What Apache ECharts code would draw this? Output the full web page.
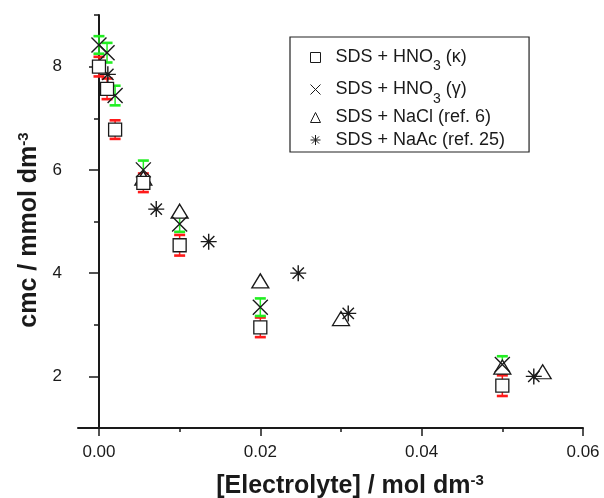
<!DOCTYPE html>
<html>
<head>
<meta charset="utf-8">
<script src="https://cdn.jsdelivr.net/npm/echarts@6/dist/echarts.min.js"></script>
<style>
html,body{margin:0;padding:0;background:#fff;}
#chart{width:604px;height:498px;}
</style>
</head>
<body>
<div id="chart"></div>
<script>
// ---- data ----
const kappaX   = [0, 0.001, 0.002, 0.0055, 0.01, 0.02, 0.05];
const kappaY   = [8.0, 7.57, 6.78, 5.75, 4.54, 2.95, 1.82];
const kappaErr = [0.19, 0.20, 0.18, 0.18, 0.20, 0.19, 0.20];

const gammaX   = [0, 0.001, 0.002, 0.0055, 0.01, 0.02, 0.05];
const gammaY   = [8.42, 8.27, 7.44, 6.0, 4.95, 3.34, 2.23];
const gammaErr = [0.17, 0.19, 0.19, 0.18, 0.15, 0.17, 0.16];

const naclX = [0.0055, 0.01, 0.02, 0.03, 0.05, 0.055];
const naclY = [5.84, 5.2, 3.85, 3.12, 2.18, 2.09];

const naacX = [0.0011, 0.0071, 0.0136, 0.0247, 0.0309, 0.0539];
const naacY = [7.85, 5.24, 4.61, 4.0, 3.22, 2.0];

const xMajorTicks = [0, 0.02, 0.04, 0.06];
const xMinorTicks = [0.01, 0.03, 0.05];
const yMajorTicks = [2, 4, 6, 8];

const legendLabels = {
  kappa: 'SDS + HNO{sub|3} (κ)',
  gamma: 'SDS + HNO{sub|3} (γ)',
  nacl: 'SDS + NaCl (ref. 6)',
  naac: 'SDS + NaAc (ref. 25)'
};

// ---- build ----
const FONT = '"Liberation Sans", Arial, Helvetica, sans-serif';
const INK = '#1a1a1a';
const zip2 = (xs, ys) => xs.map((x, i) => [x, ys[i]]);
const zip3 = (xs, ys, es) => xs.map((x, i) => [x, ys[i], es[i]]);

function errRender(color) {
  return function (params, api) {
    const x = api.value(0), y = api.value(1), e = api.value(2);
    const hi = api.coord([x, y + e]);
    const lo = api.coord([x, y - e]);
    const hw = 5.5;
    return {
      type: 'group',
      children: [
        {type: 'line', shape: {x1: hi[0], y1: hi[1], x2: lo[0], y2: lo[1]}, style: {stroke: color, lineWidth: 1.5}},
        {type: 'line', shape: {x1: hi[0] - hw, y1: hi[1], x2: hi[0] + hw, y2: hi[1]}, style: {stroke: color, lineWidth: 2.6}},
        {type: 'line', shape: {x1: lo[0] - hw, y1: lo[1], x2: lo[0] + hw, y2: lo[1]}, style: {stroke: color, lineWidth: 2.6}}
      ]
    };
  };
}

const symStyle = {color: '#fff', borderColor: INK, borderWidth: 1.3, opacity: 1};
const lineSymStyle = {color: 'none', borderColor: INK, borderWidth: 1.4, opacity: 1};

const CROSS = 'path://M0,0L10,10M10,0L0,10';
const STAR = 'path://M0,5L10,5M5,0L5,10M1.46,1.46L8.54,8.54M8.54,1.46L1.46,8.54';

const chart = echarts.init(document.getElementById('chart'), null, {renderer: 'canvas'});

const supStyle = {fontSize: 15, fontWeight: 'bold', fontFamily: FONT, fill: INK, verticalAlign: 'top', lineHeight: 15, padding: [0, 0, 16, 0]};

const option = {
  backgroundColor: '#fff',
  animation: false,
  grid: {left: 78, right: 21, top: 15, bottom: 70},
  xAxis: [
    {
      type: 'value', min: -0.0026, max: 0.06, position: 'bottom',
      axisLine: {show: true, lineStyle: {color: INK, width: 2}},
      axisTick: {show: true, customValues: xMinorTicks, length: 4, lineStyle: {color: INK, width: 1.5}},
      axisLabel: {show: false},
      splitLine: {show: false}
    },
    {
      type: 'value', min: -0.0026, max: 0.06, position: 'bottom',
      axisLine: {show: false},
      axisTick: {show: true, customValues: xMajorTicks, length: 8, lineStyle: {color: INK, width: 1.5}},
      axisLabel: {show: true, customValues: xMajorTicks, margin: 16, fontSize: 17, color: INK, fontFamily: FONT,
        formatter: v => v.toFixed(2)},
      splitLine: {show: false}
    }
  ],
  yAxis: [
    {
      type: 'value', min: 1, max: 9, interval: 2, position: 'left',
      axisLine: {show: true, lineStyle: {color: INK, width: 2}},
      axisTick: {show: true, length: 5, lineStyle: {color: INK, width: 1.5}},
      axisLabel: {show: false},
      splitLine: {show: false}
    },
    {
      type: 'value', min: 1, max: 9, position: 'left',
      axisLine: {show: false},
      axisTick: {show: true, customValues: yMajorTicks, length: 10, lineStyle: {color: INK, width: 1.5}},
      axisLabel: {show: true, customValues: yMajorTicks, margin: 16, fontSize: 17, color: INK, fontFamily: FONT},
      splitLine: {show: false}
    }
  ],
  legend: {
    orient: 'vertical',
    left: 290, top: 37,
    padding: [5, 24, 1, 18],
    itemGap: 0,
    itemWidth: 10, itemHeight: 10,
    itemStyle: {borderWidth: 1},
    borderColor: '#222', borderWidth: 1.2, borderRadius: 0,
    backgroundColor: '#fff',
    selectedMode: false,
    data: [
      {name: 'kappa', icon: 'rect', textStyle: {lineHeight: 31}},
      {name: 'gamma', icon: CROSS, textStyle: {lineHeight: 33}},
      {name: 'nacl', icon: 'triangle', textStyle: {lineHeight: 23}},
      {name: 'naac', icon: STAR, textStyle: {lineHeight: 22}}
    ],
    formatter: n => legendLabels[n],
    textStyle: {
      fontSize: 18, color: INK, fontFamily: FONT, padding: [0, 0, 0, 10],
      rich: {
        sub: {fontSize: 14, fontFamily: FONT, color: INK, verticalAlign: 'bottom', lineHeight: 14, padding: [14, 0, 0, 0]}
      }
    }
  },
  graphic: [
    {
      type: 'text', x: 350, y: 486, z: 100,
      style: {
        text: '[Electrolyte] / mol dm{sup|-3}',
        font: 'bold 25px ' + FONT, fill: INK, align: 'center', verticalAlign: 'middle',
        rich: {sup: supStyle}
      }
    },
    {
      type: 'text', x: 29, y: 230, rotation: Math.PI / 2, z: 100,
      style: {
        text: 'cmc / mmol dm{sup|-3}',
        font: 'bold 25px ' + FONT, fill: INK, align: 'center', verticalAlign: 'middle',
        rich: {sup: supStyle}
      }
    }
  ],
  series: [
    {
      name: 'kappaErr', type: 'custom', xAxisIndex: 0, yAxisIndex: 0, z: 1,
      dimensions: ['x', 'y', 'err'], encode: {x: 0, y: 1},
      renderItem: errRender('#ff1a1a'), data: zip3(kappaX, kappaY, kappaErr), silent: true
    },
    {
      name: 'gammaErr', type: 'custom', xAxisIndex: 0, yAxisIndex: 0, z: 1,
      dimensions: ['x', 'y', 'err'], encode: {x: 0, y: 1},
      renderItem: errRender('#22ee22'), data: zip3(gammaX, gammaY, gammaErr), silent: true
    },
    {
      name: 'nacl', type: 'scatter', z: 3, symbol: 'triangle', symbolSize: [17, 14],
      itemStyle: symStyle, data: zip2(naclX, naclY)
    },
    {
      name: 'naac', type: 'scatter', z: 3, symbol: STAR, symbolSize: 16,
      itemStyle: lineSymStyle, data: zip2(naacX, naacY)
    },
    {
      name: 'gamma', type: 'scatter', z: 4, symbol: CROSS, symbolSize: 15,
      itemStyle: lineSymStyle, data: zip2(gammaX, gammaY)
    },
    {
      name: 'kappa', type: 'scatter', z: 5, symbol: 'rect', symbolSize: 13,
      itemStyle: symStyle, data: zip2(kappaX, kappaY)
    }
  ]
};
chart.setOption(option);
</script>
</body>
</html>
